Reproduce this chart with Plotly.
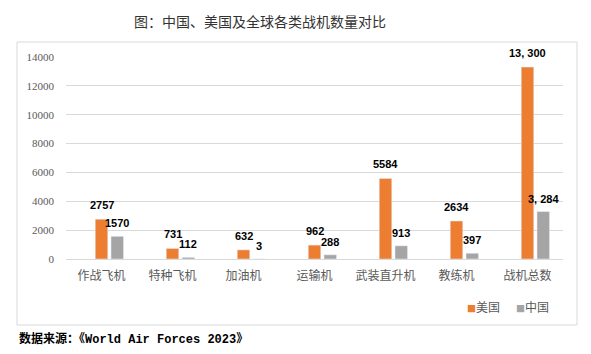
import plotly.graph_objects as go

categories = ["作战飞机", "特种飞机", "加油机", "运输机", "武装直升机", "教练机", "战机总数"]
us_values = [2757, 731, 632, 962, 5584, 2634, 13300]
cn_values = [1570, 112, 3, 288, 913, 397, 3284]
us_labels = ["2757", "731", "632", "962", "5584", "2634", "13, 300"]
cn_labels = ["1570", "112", "3", "288", "913", "397", "3, 284"]
y_ticks = [0, 2000, 4000, 6000, 8000, 10000, 12000, 14000]
y_tick_text = ["0", "2000", "4000", "6000", "8000", "10000", "12000", "14000"]

US_COLOR = "#ED7D31"
CN_COLOR = "#A5A5A5"
BAR_W = 0.176
US_OFF = -0.088
CN_OFF = 0.134

fig = go.Figure()
fig.add_trace(go.Bar(x=categories, y=us_values, name="美国", marker_color=US_COLOR,
                     width=BAR_W, offset=US_OFF, showlegend=False))
fig.add_trace(go.Bar(x=categories, y=cn_values, name="中国", marker_color=CN_COLOR,
                     width=BAR_W, offset=CN_OFF, showlegend=False))

label_font = dict(family="Liberation Sans, Arial, sans-serif", size=11, color="#000000")
for i, (v, t) in enumerate(zip(us_values, us_labels)):
    fig.add_annotation(x=i + US_OFF + BAR_W / 2, y=v, text="<b>%s</b>" % t, showarrow=False,
                       yshift=14, font=label_font, xref="x", yref="y")
for i, (v, t) in enumerate(zip(cn_values, cn_labels)):
    fig.add_annotation(x=i + CN_OFF + BAR_W / 2, y=v, text="<b>%s</b>" % t, showarrow=False,
                       yshift=13, font=label_font, xref="x", yref="y")

# legend as text
legend_font = dict(family="Noto Sans CJK SC, sans-serif", size=12, color="#595959")
fig.add_annotation(xref="paper", yref="paper", x=(465 - 66) / 497, y=(259 - 306) / 202,
                   xanchor="left", yanchor="middle", showarrow=False, font=legend_font,
                   text='<span style="color:%s;font-size:9px">■</span>美国' % US_COLOR)
fig.add_annotation(xref="paper", yref="paper", x=(514 - 66) / 497, y=(259 - 306) / 202,
                   xanchor="left", yanchor="middle", showarrow=False, font=legend_font,
                   text='<span style="color:%s;font-size:9px">■</span>中国' % CN_COLOR)

# source note
fig.add_annotation(xref="paper", yref="paper", x=(17 - 66) / 497, y=(259 - 339) / 202,
                   xanchor="left", yanchor="middle", showarrow=False,
                   font=dict(family="Liberation Mono, Noto Sans CJK SC, monospace", size=12, color="#000000"),
                   text="<b>数据来源：《World Air Forces 2023》</b>")

# chart border
fig.add_shape(type="rect", xref="paper", yref="paper",
              x0=(17 - 66) / 497, x1=(577 - 66) / 497,
              y0=(259 - 325) / 202, y1=(259 - 42) / 202,
              line=dict(color="#D9D9D9", width=1), fillcolor="rgba(0,0,0,0)", layer="below")

fig.update_layout(
    width=591, height=354,
    margin=dict(l=66, r=28, t=57, b=95),
    paper_bgcolor="white", plot_bgcolor="white",
    barmode="overlay",
    title=dict(text="图：中国、美国及全球各类战机数量对比", xref="container", yref="container",
               x=260 / 591, y=1 - 22 / 354, xanchor="center", yanchor="middle",
               font=dict(family="Noto Sans CJK SC, sans-serif", size=14, color="#333333")),
    xaxis=dict(type="category", showgrid=False, showline=True, linecolor="#D9D9D9", linewidth=1,
               ticks="", ticklabelstandoff=6,
               tickfont=dict(family="Noto Sans CJK SC, sans-serif", size=12, color="#595959"),
               range=[-0.5, 6.5]),
    yaxis=dict(range=[0, 14000], tickvals=y_ticks, ticktext=y_tick_text, showgrid=True,
               gridcolor="#D9D9D9", gridwidth=1,
               zeroline=False, showline=False, ticks="", ticklabelstandoff=11,
               tickfont=dict(family="Liberation Serif, Times New Roman, serif", size=11, color="#595959")),
)

fig.write_html("out.html")
